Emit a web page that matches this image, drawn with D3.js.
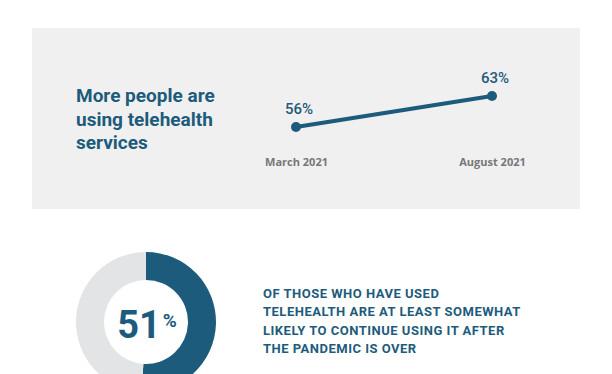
<!DOCTYPE html>
<html>
<head>
<meta charset="utf-8">
<script src="https://cdn.jsdelivr.net/npm/d3@7"></script>
<style>
  body { margin: 0; background: #fff; }
  svg { display: block; }
</style>
</head>
<body>
<svg id="canvas" width="612" height="374"></svg>
<script>
// survey data
var months = ["March 2021", "August 2021"];
var usage = [56, 63];
var titleLines = ["More people are", "using telehealth", "services"];

var likelyShare = 51;
var noteLines = ["OF THOSE WHO HAVE USED", "TELEHEALTH ARE AT LEAST SOMEWHAT",
  "LIKELY TO CONTINUE USING IT AFTER", "THE PANDEMIC IS OVER"];

var blue = "#1d5b7c";
var svg = d3.select("#canvas");

// top panel
svg.append("rect")
  .attr("x", 32).attr("y", 28)
  .attr("width", 548).attr("height", 181)
  .attr("fill", "#f0f0f0");

svg.append("g").selectAll("text")
  .data(titleLines)
  .join("text")
  .attr("x", 76)
  .attr("y", function(d, i) { return 102 + i * 23.5; })
  .attr("font-family", "Roboto")
  .attr("font-weight", 700)
  .attr("font-size", 19)
  .attr("fill", blue)
  .text(function(d) { return d; });

// line chart
var x = d3.scalePoint().domain(months).range([296, 492]);
var y = d3.scaleLinear().domain([56, 63]).range([127, 96]);

var pts = months.map(function(m, i) { return { m: m, v: usage[i] }; });

svg.append("path")
  .datum(pts)
  .attr("fill", "none")
  .attr("stroke", blue)
  .attr("stroke-width", 4)
  .attr("d", d3.line().x(function(d) { return x(d.m); }).y(function(d) { return y(d.v); }));

svg.selectAll("circle.dot")
  .data(pts)
  .join("circle")
  .attr("class", "dot")
  .attr("cx", function(d) { return x(d.m); })
  .attr("cy", function(d) { return y(d.v); })
  .attr("r", 5)
  .attr("fill", blue);

svg.selectAll("text.val")
  .data(pts)
  .join("text")
  .attr("class", "val")
  .attr("x", function(d) { return x(d.m) + 3; })
  .attr("y", function(d) { return y(d.v) - 13; })
  .attr("text-anchor", "middle")
  .attr("font-family", "Roboto")
  .attr("font-weight", 500)
  .attr("font-size", 15)
  .attr("fill", blue)
  .text(function(d) { return d.v + "%"; });

var xAxis = svg.append("g")
  .attr("transform", "translate(0,166)")
  .call(d3.axisBottom(x).tickSize(0).tickPadding(0));
xAxis.select(".domain").remove();
xAxis.selectAll("text")
  .attr("dy", 0)
  .attr("font-family", "Open Sans")
  .attr("font-weight", 700)
  .attr("font-size", 11)
  .attr("fill", "#777");

// donut
var cx = 146, cy = 322;
var pie = d3.pie().sort(null).value(function(d) { return d; });
var arc = d3.arc().innerRadius(42).outerRadius(70);
var donut = svg.append("g").attr("transform", "translate(" + cx + "," + cy + ")");
donut.selectAll("path")
  .data(pie([likelyShare, 100 - likelyShare]))
  .join("path")
  .attr("d", arc)
  .attr("fill", function(d, i) { return i === 0 ? blue : "#e2e4e5"; });

var big = donut.append("text")
  .attr("x", 1)
  .attr("y", 16)
  .attr("text-anchor", "middle")
  .attr("font-family", "Roboto")
  .attr("font-weight", 700)
  .attr("fill", blue);
big.append("tspan").attr("font-size", 38).text(likelyShare);
big.append("tspan").attr("font-size", 19).attr("dx", 2).attr("dy", -11).text("%");

svg.append("g").selectAll("text")
  .data(noteLines)
  .join("text")
  .attr("x", 263)
  .attr("y", function(d, i) { return 298 + i * 18.3; })
  .attr("font-family", "Roboto")
  .attr("font-weight", 700)
  .attr("font-size", 13)
  .attr("letter-spacing", 0.5)
  .attr("fill", blue)
  .text(function(d) { return d; });
</script>
</body>
</html>
